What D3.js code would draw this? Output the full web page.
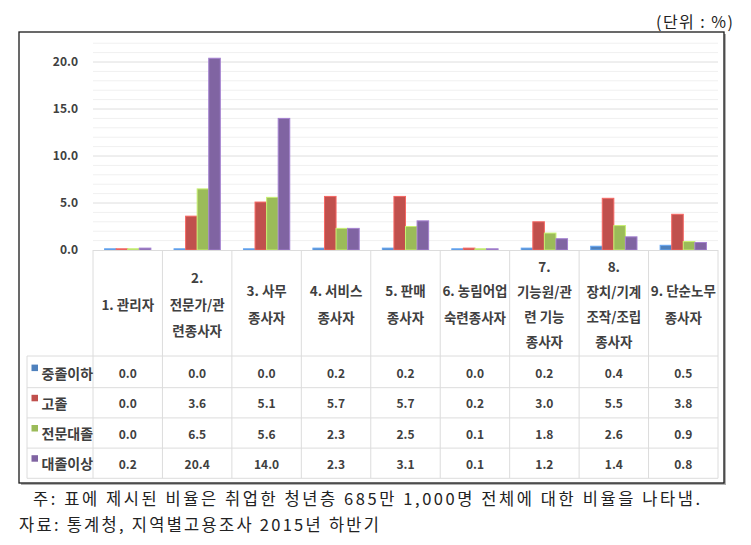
<!DOCTYPE html>
<html><head><meta charset="utf-8">
<script src="https://cdn.jsdelivr.net/npm/d3@7"></script>
<style>
html,body{margin:0;padding:0;background:#fff;}
svg{display:block;}
</style></head>
<body>
<svg id="c" width="751" height="545"></svg>
<script>
const categories = ["1. 관리자","2. 전문가/관련종사자","3. 사무종사자","4. 서비스종사자","5. 판매종사자","6. 농림어업숙련종사자","7. 기능원/관련 기능종사자","8. 장치/기계조작/조립종사자","9. 단순노무종사자"];
const categoryLines = [
  ["1. 관리자"],
  ["2.","전문가/관","련종사자"],
  ["3. 사무","종사자"],
  ["4. 서비스","종사자"],
  ["5. 판매","종사자"],
  ["6. 농림어업","숙련종사자"],
  ["7.","기능원/관","련 기능","종사자"],
  ["8.","장치/기계","조작/조립","종사자"],
  ["9. 단순노무","종사자"]
];
const seriesNames = ["중졸이하","고졸","전문대졸","대졸이상"];
const middleSchool = [0.0,0.0,0.0,0.2,0.2,0.0,0.2,0.4,0.5];
const highSchool   = [0.0,3.6,5.1,5.7,5.7,0.2,3.0,5.5,3.8];
const college      = [0.0,6.5,5.6,2.3,2.5,0.1,1.8,2.6,0.9];
const university   = [0.2,20.4,14.0,2.3,3.1,0.1,1.2,1.4,0.8];
const yTicks = [0,5,10,15,20];
const unitLabel = "(단위 : %)";
const noteText = "주: 표에 제시된 비율은 취업한 청년층 685만 1,000명 전체에 대한 비율을 나타냄.";
const sourceText = "자료: 통계청, 지역별고용조사 2015년 하반기";

const seriesValues = [middleSchool, highSchool, college, university];
const colors = ["#4F81BD","#C0504D","#9BBB59","#8064A2"];
const font = "'Noto Sans CJK KR','Noto Sans',sans-serif";
const textColor = "#404040";

const svg = d3.select("#c");

// frame
const fx0=19, fy0=32, fx1=724, fy1=483;
svg.append("rect").attr("x",fx0+2).attr("y",fy0+2).attr("width",fx1-fx0).attr("height",fy1-fy0).attr("fill","#b0b0b0");
svg.append("rect").attr("x",fx0).attr("y",fy0).attr("width",fx1-fx0).attr("height",fy1-fy0)
  .attr("fill","#fff").attr("stroke","#1a1a1a").attr("stroke-width",1.3);

const plotL=93, plotR=718, plotB=250, plotT=43.2;
const x0 = d3.scaleBand().domain(categories).range([plotL,plotR]).padding(0);
const bw = x0.bandwidth();
const x1 = d3.scaleBand().domain(seriesNames).range([bw/6, bw*5/6]).padding(0);
const y = d3.scaleLinear().domain([0,22]).range([plotB,plotT]);

// gridlines
const grid = svg.append("g");
d3.range(1,23).forEach(v=>{
  grid.append("line").attr("x1",plotL).attr("x2",plotR).attr("y1",y(v)).attr("y2",y(v))
    .attr("stroke", v%5===0 ? "#dedede" : "#f0f0f0").attr("stroke-width",1);
});

// y axis labels
const yAxis = d3.axisLeft(y).tickValues(yTicks).tickFormat(d3.format(".1f")).tickSize(0).tickPadding(15);
const ya = svg.append("g").attr("transform",`translate(${plotL},0)`).call(yAxis);
ya.select(".domain").remove();
ya.selectAll("text").attr("font-family",font).attr("font-size",12).attr("font-weight","bold").attr("fill",textColor);

// bars
const barG = svg.append("g");
categories.forEach((c,i)=>{
  seriesNames.forEach((s,j)=>{
    const v = seriesValues[j][i];
    const h = Math.max(1.2, y(0)-y(v));
    barG.append("rect")
      .attr("x", x0(c)+x1(s)).attr("width", x1.bandwidth())
      .attr("y", y(0)-h).attr("height", h)
      .attr("fill", colors[j])
      .attr("stroke", d3.color(colors[j]).brighter(0.7))
      .attr("stroke-width", 1);
  });
});

// table
const tableLeft = 27, headerBottom = 356, rowTop = 357.5, rowH = 30.2;
const tableBottom = rowTop + rowH*4;
const lineColor = "#dcdcdc";
const tg = svg.append("g");
tg.append("line").attr("x1",plotL).attr("x2",plotR).attr("y1",plotB+0.5).attr("y2",plotB+0.5).attr("stroke",lineColor);
categories.forEach(c=>{
  tg.append("line").attr("x1",x0(c)).attr("x2",x0(c)).attr("y1",plotB).attr("y2",tableBottom).attr("stroke",lineColor);
});
tg.append("line").attr("x1",plotR).attr("x2",plotR).attr("y1",plotB).attr("y2",tableBottom).attr("stroke",lineColor);
tg.append("line").attr("x1",tableLeft).attr("x2",tableLeft).attr("y1",headerBottom).attr("y2",tableBottom).attr("stroke",lineColor);
[headerBottom, rowTop+rowH, rowTop+rowH*2, rowTop+rowH*3, tableBottom].forEach(yy=>{
  tg.append("line").attr("x1",tableLeft).attr("x2",plotR).attr("y1",yy).attr("y2",yy).attr("stroke",lineColor);
});

// category labels
const headerMid = 303.5;
categories.forEach((c,i)=>{
  const lines = categoryLines[i];
  const lh = lines.length>=4 ? 25 : 26.5;
  const start = headerMid - lh*(lines.length-1)/2;
  lines.forEach((t,k)=>{
    tg.append("text").attr("x", x0(c)+bw/2).attr("y", start+k*lh)
      .attr("text-anchor","middle").attr("dominant-baseline","central")
      .attr("font-family",font).attr("font-size",13.5).attr("font-weight","bold").attr("fill",textColor)
      .text(t);
  });
});

// rows
seriesNames.forEach((s,j)=>{
  const cy = rowTop + rowH*j + rowH/2;
  tg.append("rect").attr("x",31.5).attr("y",cy-8).attr("width",6.5).attr("height",6.5).attr("fill",colors[j]);
  tg.append("text").attr("x",41.5).attr("y",cy).attr("dominant-baseline","central")
    .attr("font-family",font).attr("font-size",14).attr("font-weight","bold").attr("fill",textColor).text(s);
  categories.forEach((c,i)=>{
    tg.append("text").attr("x",x0(c)+bw/2).attr("y",cy).attr("text-anchor","middle").attr("dominant-baseline","central")
      .attr("font-family",font).attr("font-size",12).attr("font-weight","bold").attr("fill",textColor)
      .text(d3.format(".1f")(seriesValues[j][i]));
  });
});

// unit label
svg.append("text").attr("x",656).attr("y",21).attr("dominant-baseline","central")
  .attr("font-family",font).attr("font-size",16).attr("fill","#222")
  .attr("textLength",77).attr("lengthAdjust","spacing").text(unitLabel);

// footer
svg.append("text").attr("x",33).attr("y",498).attr("dominant-baseline","central")
  .attr("font-family",font).attr("font-size",16.5).attr("fill","#222")
  .attr("textLength",667).attr("lengthAdjust","spacing").text(noteText);
svg.append("text").attr("x",19).attr("y",524).attr("dominant-baseline","central")
  .attr("font-family",font).attr("font-size",16.5).attr("fill","#222")
  .attr("textLength",360).attr("lengthAdjust","spacing").text(sourceText);
</script>
</body></html>
